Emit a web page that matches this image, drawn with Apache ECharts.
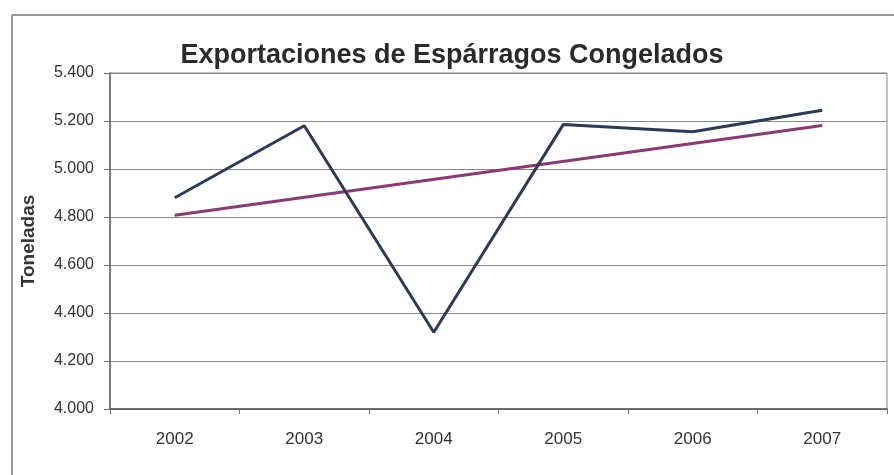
<!DOCTYPE html>
<html>
<head>
<meta charset="utf-8">
<script src="https://cdn.jsdelivr.net/npm/echarts@6/dist/echarts.min.js"></script>
<style>html,body{margin:0;padding:0;background:#fff;}#c{width:894px;height:475px;}</style>
</head>
<body>
<div id="c"></div>
<script>
const categories = ['2002', '2003', '2004', '2005', '2006', '2007'];
const exportaciones = [4880, 5180, 4320, 5185, 5155, 5245];
const tendencia = [4807, null, null, null, null, 5181];
const yMin = 4000, yMax = 5400, yStep = 200;

const chart = echarts.init(document.getElementById('c'));
chart.setOption({
  backgroundColor: '#fff',
  animation: false,
  title: {
    text: 'Exportaciones de Espárragos Congelados',
    left: 447, top: 37, textAlign: 'center',
    textStyle: { fontFamily: 'Liberation Sans', fontWeight: 'bold', fontSize: 27, color: '#2a2a2a' }
  },
  graphic: [
    { type: 'line', shape: { x1: 12, y1: 15, x2: 894, y2: 15 }, style: { stroke: '#999', lineWidth: 2 } },
    { type: 'line', shape: { x1: 12, y1: 15, x2: 12, y2: 475 }, style: { stroke: '#999', lineWidth: 2 } }
  ],
  grid: { left: 110, right: 7, top: 73, bottom: 66, show: true, borderColor: '#888', borderWidth: 1 },
  xAxis: {
    type: 'category', data: categories, boundaryGap: true,
    axisLine: { lineStyle: { color: '#555', width: 1.5 } },
    axisTick: { show: true, inside: false, length: 5, lineStyle: { color: '#777' } },
    axisLabel: { margin: 22, fontFamily: 'Liberation Sans', fontSize: 17, color: '#333' }
  },
  yAxis: {
    type: 'value', min: yMin, max: yMax, interval: yStep,
    name: 'Toneladas', nameLocation: 'middle', nameGap: 72, nameRotate: 90,
    nameTextStyle: { fontFamily: 'Liberation Sans', fontWeight: 'bold', fontSize: 19, color: '#333' },
    axisLine: { show: true, lineStyle: { color: '#666', width: 1.5 } },
    axisTick: { show: true, length: 6, lineStyle: { color: '#666' } },
    axisLabel: {
      margin: 16, fontFamily: 'Liberation Sans', fontSize: 16, color: '#333',
      formatter: v => { const s = String(v); return s.slice(0, s.length - 3) + '.' + s.slice(-3); }
    },
    splitLine: { lineStyle: { color: '#888', width: 1.2 } }
  },
  series: [
    {
      type: 'line', data: tendencia, connectNulls: true, showSymbol: false, symbol: 'none',
      lineStyle: { color: '#8a3a72', width: 3 }, z: 2
    },
    {
      type: 'line', data: exportaciones, showSymbol: false, symbol: 'none',
      lineStyle: { color: '#2c3a55', width: 3 }, z: 3
    }
  ]
});
</script>
</body>
</html>
